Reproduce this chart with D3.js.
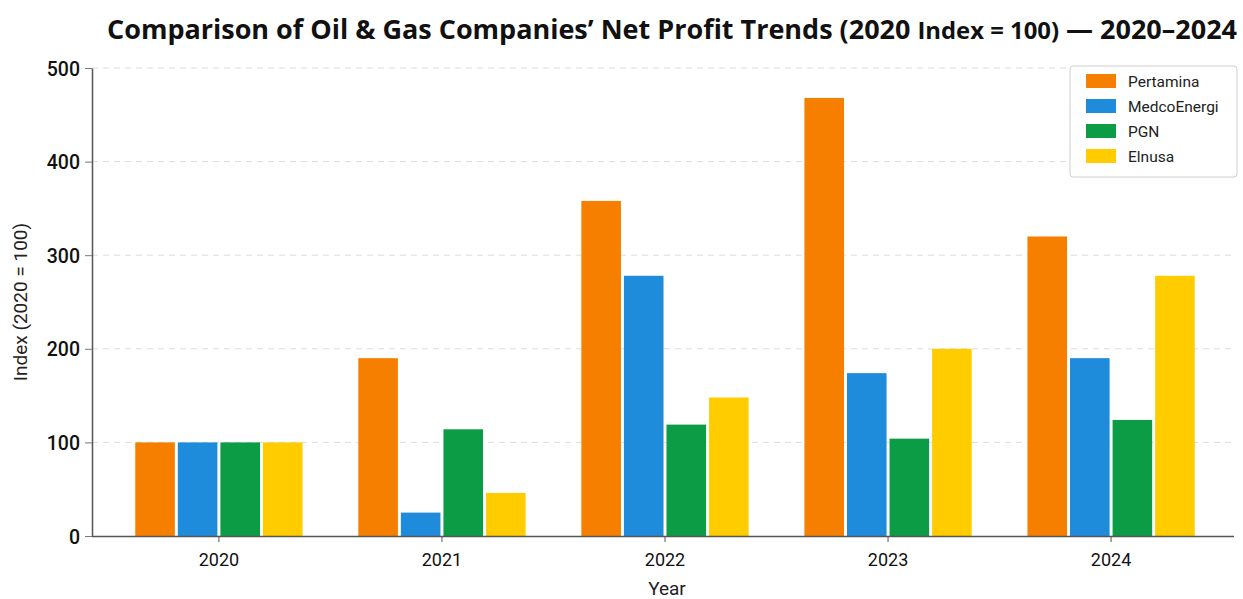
<!DOCTYPE html>
<html>
<head>
<meta charset="utf-8">
<script src="https://cdn.jsdelivr.net/npm/d3@7"></script>
<style>
  body { margin: 0; background: #fff; }
  svg { display: block; }
</style>
</head>
<body>
<svg width="1243" height="599"></svg>
<script>
// data
var years = ["2020", "2021", "2022", "2023", "2024"];
var companies = ["Pertamina", "MedcoEnergi", "PGN", "Elnusa"];
var pertamina = [100, 190, 358, 468, 320];
var medco = [100, 25, 278, 174, 190];
var pgn = [100, 114, 119, 104, 124];
var elnusa = [100, 46, 148, 200, 278];
var yTicks = [0, 100, 200, 300, 400, 500];
var colors = ["#F77F00", "#1F8BDB", "#0C9C45", "#FFCC00"];

var series = [pertamina, medco, pgn, elnusa];

var svg = d3.select("svg");

var plotLeft = 92, plotRight = 1234, plotTop = 68, plotBottom = 536;

var xScale = d3.scaleBand().domain(years).range([plotLeft + 2, plotRight + 2])
    .paddingInner(0.25).paddingOuter(0.185);
var xInner = d3.scaleBand().domain(companies).range([0, xScale.bandwidth()])
    .paddingInner(0.07);
var yScale = d3.scaleLinear().domain([0, 500]).range([plotBottom, plotTop]);
var color = d3.scaleOrdinal().domain(companies).range(colors);

// grid
svg.append("g")
  .selectAll("line")
  .data(yTicks.filter(function(d) { return d > 0; }))
  .enter()
  .append("line")
  .attr("x1", plotLeft)
  .attr("x2", plotRight)
  .attr("y1", function(d) { return yScale(d); })
  .attr("y2", function(d) { return yScale(d); })
  .style("stroke", "#dcdcdc")
  .style("stroke-width", 1)
  .style("stroke-dasharray", "6,5");

// bars
var rows = [];
years.forEach(function(y, i) {
  companies.forEach(function(c, j) {
    rows.push({ year: y, company: c, value: series[j][i] });
  });
});

svg.append("g")
  .selectAll("rect")
  .data(rows)
  .enter()
  .append("rect")
  .attr("x", function(d) { return xScale(d.year) + xInner(d.company); })
  .attr("y", function(d) { return yScale(d.value); })
  .attr("width", xInner.bandwidth())
  .attr("height", function(d) { return yScale(0) - yScale(d.value); })
  .style("fill", function(d) { return color(d.company); });

// axes
var xAxis = svg.append("g")
  .attr("transform", "translate(0," + plotBottom + ")")
  .call(d3.axisBottom(xScale).tickSize(6).tickSizeOuter(0));
xAxis.select(".domain")
  .attr("d", "M" + plotLeft + ",0.5H" + plotRight)
  .style("stroke", "#555").style("stroke-width", 1.5);
xAxis.selectAll(".tick line").style("stroke", "#555");
xAxis.selectAll(".tick text")
  .attr("dy", "1.15em")
  .style("font-family", "Roboto, 'Open Sans', sans-serif")
  .style("font-size", "18px")
  .style("fill", "#111");

var yAxis = svg.append("g")
  .attr("transform", "translate(" + plotLeft + ",0)")
  .call(d3.axisLeft(yScale).tickValues(yTicks).tickSize(7).tickSizeOuter(0));
yAxis.select(".domain").style("stroke", "#555").style("stroke-width", 1.5);
yAxis.selectAll(".tick line").style("stroke", "#777");
yAxis.selectAll(".tick text")
  .attr("x", -12)
  .attr("dy", "0.36em")
  .style("font-family", "Roboto, 'Open Sans', sans-serif")
  .style("font-size", "19.5px")
  .style("font-weight", "500")
  .style("fill", "#111");

// title
var title = svg.append("text")
  .attr("x", 672)
  .attr("y", 39)
  .attr("text-anchor", "middle")
  .attr("textLength", 1130)
  .attr("lengthAdjust", "spacingAndGlyphs")
  .style("font-family", "'Open Sans', 'DejaVu Sans', sans-serif")
  .style("font-size", "26px")
  .style("font-weight", "700")
  .style("fill", "#111");
title.append("tspan").text("Comparison of Oil & Gas Companies\u2019 Net Profit Trends (2020 ");
title.append("tspan").style("font-size", "23px").text("Index = 100)");
title.append("tspan").text(" \u2014 2020\u20132024");

// axis labels
svg.append("text")
  .attr("x", 667)
  .attr("y", 595)
  .attr("text-anchor", "middle")
  .style("font-family", "Roboto, 'Open Sans', sans-serif")
  .style("font-size", "19px")
  .style("fill", "#222")
  .text("Year");

svg.append("text")
  .attr("text-anchor", "middle")
  .attr("transform", "translate(27,302)rotate(-90)")
  .style("font-family", "Roboto, 'Open Sans', sans-serif")
  .style("font-size", "19px")
  .style("fill", "#222")
  .text("Index (2020 = 100)");

// legend
var legend = svg.append("g").attr("transform", "translate(1070,66)");
legend.append("rect")
  .attr("width", 167)
  .attr("height", 111)
  .attr("rx", 3)
  .style("fill", "#fff")
  .style("stroke", "#cfcfcf");

var item = legend.selectAll(".item")
  .data(companies)
  .enter()
  .append("g")
  .attr("transform", function(d, i) { return "translate(0," + (15 + i * 25) + ")"; });
item.append("rect")
  .attr("x", 16)
  .attr("y", -7)
  .attr("width", 30)
  .attr("height", 14)
  .style("fill", function(d) { return color(d); });
item.append("text")
  .attr("x", 58)
  .attr("dy", "0.36em")
  .style("font-family", "Roboto, 'Open Sans', sans-serif")
  .style("font-size", "15.5px")
  .style("fill", "#222")
  .text(function(d) { return d; });
</script>
</body>
</html>
